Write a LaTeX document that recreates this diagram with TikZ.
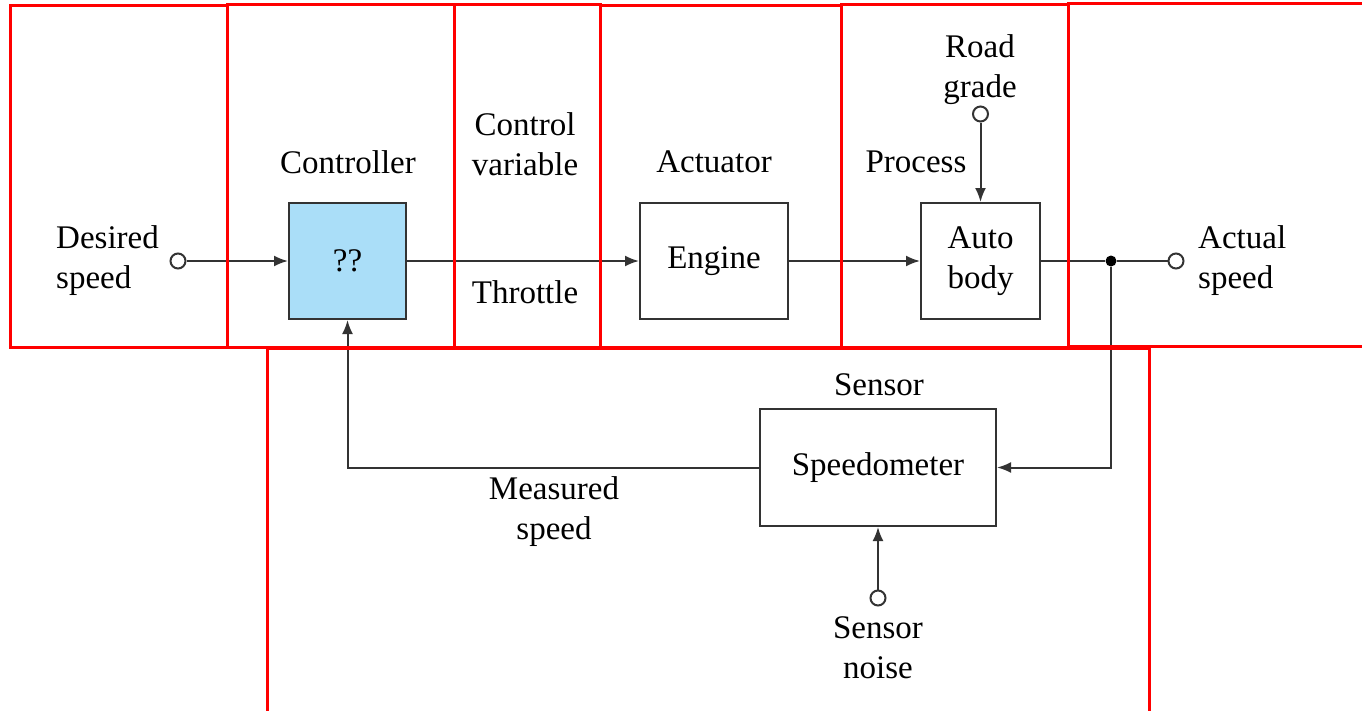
\documentclass[tikz,border=0pt]{standalone}
\usepackage{fontspec}
\setmainfont{Liberation Serif}
\usetikzlibrary{arrows.meta,positioning}
\definecolor{ctrlblue}{RGB}{170,222,248}
\definecolor{inkgray}{RGB}{51,51,51}

\begin{document}
\begin{tikzpicture}[x=1pt, y=-1pt,
  font=\fontsize{33}{40}\selectfont,
  box/.style={draw=inkgray, line width=2pt, inner sep=0pt, minimum height=116pt, align=center},
  lbl/.style={align=center, inner sep=0pt},
  port/.style={circle, draw=inkgray, line width=2pt, fill=white, minimum size=15pt, inner sep=0pt},
  junc/.style={circle, fill=black, minimum size=11pt, inner sep=0pt},
  arr/.style={-{Latex[length=14pt,width=11pt]}, line width=2pt, draw=inkgray},
  wire/.style={line width=2pt, draw=inkgray},
  frame/.style={draw=red, line width=3pt}
]
\useasboundingbox (0,0) rectangle (1362,710);

% blocks
\node[box, fill=ctrlblue, minimum width=117pt] (ctrl) at (347.5,261) {??};
\node[box, minimum width=148pt] (engine) at (714,261) {\raisebox{-3pt}{Engine}};
\node[box, minimum width=119pt] (auto) at (980.5,261) {Auto\\body};
\node[box, minimum width=236pt, minimum height=117pt] (speedo) at (878,467.5) {\raisebox{-3pt}{Speedometer}};

% ports
\node[port] (desired) at (178,261) {};
\node[port] (grade) at (980.5,114) {};
\node[port] (actual) at (1176,261) {};
\node[port] (noise) at (878,598) {};
\node[junc] (split) at (1111,261) {};

% labels
\node[lbl, align=left, anchor=west] (desiredlbl) at (56,261) {Desired\\speed};
\node[lbl] (ctrllbl) at (348,162) {Controller};
\node[lbl] (cvlbl) at (525,144) {Control\\variable};
\node[lbl] (throttle) at (525,292) {Throttle};
\node[lbl] (actlbl) at (714,162) {Actuator};
\node[lbl] (proclbl) at (916,162) {Process};
\node[lbl] (gradelbl) at (980,69.5) {Road\\grade};
\node[lbl, align=left, anchor=west] (actuallbl) at (1198,261) {Actual\\speed};
\node[lbl] (senslbl) at (879,385) {Sensor};
\node[lbl] (measlbl) at (554,512) {Measured\\speed};
\node[lbl] (noiselbl) at (878,647.5) {Sensor\\noise};

% connectors
\draw[arr] (desired) -- (ctrl);
\draw[arr] (ctrl) -- (engine);
\draw[arr] (engine) -- (auto);
\draw[wire] (auto) -- (split);
\draw[wire] (split) -- (actual);
\draw[arr] (grade) -- (auto);
\draw[arr] (split) |- (speedo);
\draw[arr] (speedo) -| (ctrl);
\draw[arr] (noise) -- (speedo);

% red frames
\begin{scope}
\clip (0,0) rectangle (1362,710);
\draw[frame] (10,5) rectangle (227,347);
\draw[frame] (227,4) rectangle (454,347);
\draw[frame] (454,4) rectangle (600,347);
\draw[frame] (600,5) rectangle (841,347);
\draw[frame] (841,4) rectangle (1068,347);
\draw[frame] (1068,3) rectangle (1372,346);
\draw[frame] (267,348) rectangle (1149,720);
\end{scope}
\end{tikzpicture}
\end{document}
